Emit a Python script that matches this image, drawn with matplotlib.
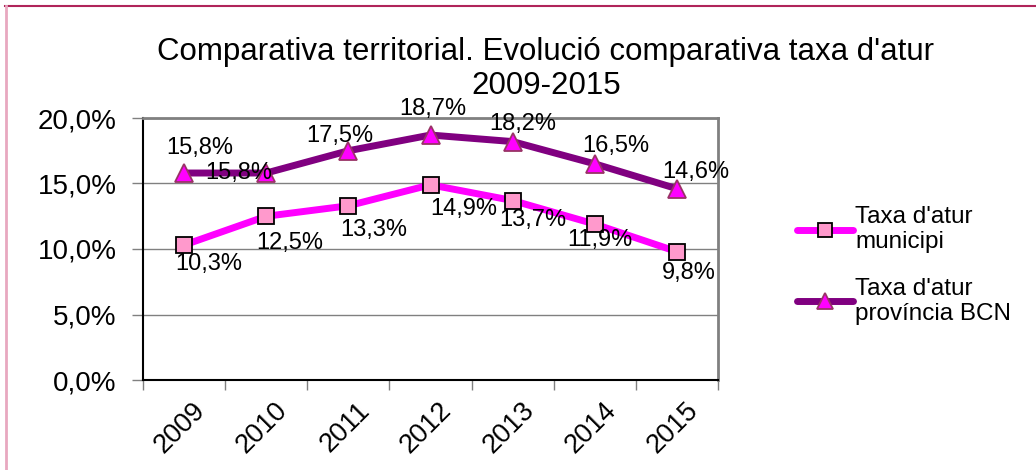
import matplotlib.pyplot as plt
from matplotlib.lines import Line2D

plt.rcParams['font.family'] = ['Liberation Sans', 'DejaVu Sans']

years = ['2009', '2010', '2011', '2012', '2013', '2014', '2015']
taxa_municipi = [10.3, 12.5, 13.3, 14.9, 13.7, 11.9, 9.8]
taxa_provincia = [15.8, 15.8, 17.5, 18.7, 18.2, 16.5, 14.6]
yticks = [0, 5, 10, 15, 20]

# label offsets in pixels (Excel places them a bit irregularly)
off_mun = [(25, -19), (24, -27), (25, -24), (33, -24), (20, -19), (5, -16), (12, -21)]
off_prov = [(16, 25), (-27, 0), (-9, 15), (2, 26), (10, 18), (21, 18), (19, 17)]

def fmt(v):
    return f"{v:.1f}%".replace('.', ',')

fig = plt.figure(figsize=(10.36, 4.70), dpi=100)
ax = fig.add_axes([143 / 1036, 90 / 470, 575 / 1036, 262 / 470])

x = range(len(years))
ax.plot(x, taxa_municipi, color='#FF00FF', lw=5, marker='s', ms=12,
        mfc='#FF99CC', mec='black', mew=1.3, zorder=3, solid_capstyle='round')
ax.plot(x, taxa_provincia, color='#800080', lw=5, marker='^', ms=13,
        mfc='#FF00FF', mec='#993366', mew=1.3, zorder=3, solid_capstyle='round')

for i, v in enumerate(taxa_municipi):
    ax.annotate(fmt(v), (i, v), xytext=off_mun[i], textcoords='offset pixels',
                ha='center', va='center', fontsize=17, zorder=5)
for i, v in enumerate(taxa_provincia):
    ax.annotate(fmt(v), (i, v), xytext=off_prov[i], textcoords='offset pixels',
                ha='center', va='center', fontsize=17, zorder=5)

ax.set_xlim(-0.5, len(years) - 0.5)
ax.set_ylim(0, 20)
ax.set_yticks(yticks)
ax.set_yticklabels([fmt(t) for t in yticks], fontsize=20)
ax.set_xticks([i - 0.5 for i in range(len(years) + 1)])
ax.set_xticklabels([])
for i, y in enumerate(years):
    ax.text(i + 0.1, -1.3, y, rotation=45, ha='right', va='top', fontsize=19.5,
            rotation_mode='anchor')
ax.tick_params(axis='x', length=7, width=1, color='#808080')
ax.tick_params(axis='y', length=8, width=1, color='#808080', pad=11)
ax.grid(axis='y', color='#808080', lw=1)
ax.set_axisbelow(True)
ax.spines['left'].set_color('black')
ax.spines['bottom'].set_color('black')
ax.spines['left'].set_linewidth(1.5)
ax.spines['bottom'].set_linewidth(1.5)
ax.spines['top'].set_color('#808080')
ax.spines['right'].set_color('#808080')
ax.spines['top'].set_linewidth(2)
ax.spines['right'].set_linewidth(2)

fig.text(0.527, 0.853, "Comparativa territorial. Evolució comparativa taxa d'atur\n2009-2015",
         ha='center', va='center', fontsize=22.5, linespacing=1.15)

handles = [
    Line2D([], [], color='#FF00FF', lw=5, marker='s', ms=10, mfc='#FF99CC', mec='black',
           mew=1.3, solid_capstyle='round'),
    Line2D([], [], color='#800080', lw=5, marker='^', ms=11, mfc='#FF00FF', mec='#993366',
           mew=1.3, solid_capstyle='round'),
]
fig.legend(handles, ["Taxa d'atur\nmunicipi", "Taxa d'atur\nprovíncia BCN"],
           loc='center left', bbox_to_anchor=(780 / 1036, 0.435), frameon=False,
           fontsize=17.5, handlelength=2.3, handletextpad=0.1, labelspacing=1.0,
           borderpad=0.2)

# chart frame (only top and left visible in the crop)
fig.add_artist(Line2D([5 / 1036, 1], [1 - 6 / 470] * 2, color='#B0245A', lw=1.5))
fig.add_artist(Line2D([5.5 / 1036] * 2, [0, 1 - 6 / 470], color='#E8A8C0', lw=2))

fig.savefig('out.png', dpi=100)
